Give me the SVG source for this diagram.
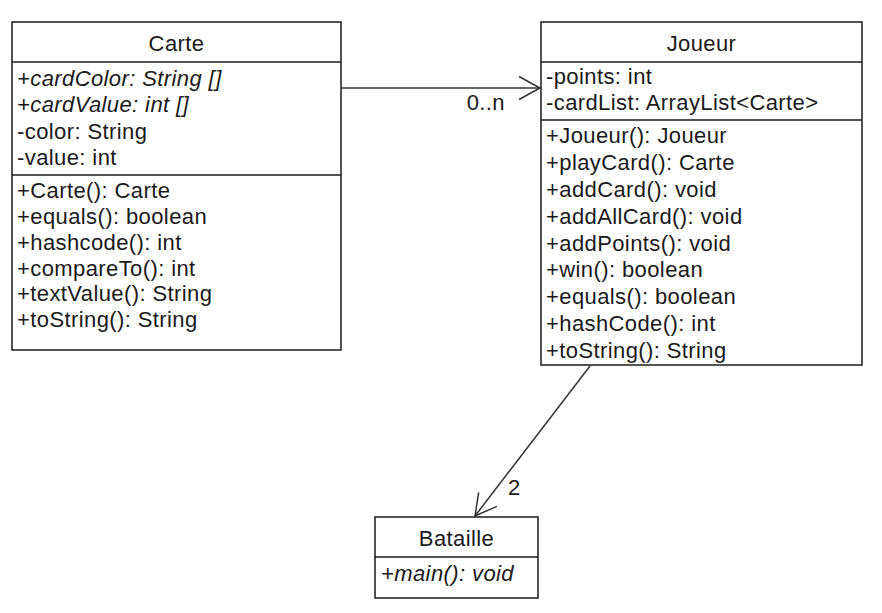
<svg xmlns="http://www.w3.org/2000/svg" width="882" height="613" viewBox="0 0 882 613">
<defs>
<style>
.box{fill:#ffffff;stroke:#1a1a1a;stroke-width:1.5}
.sep{stroke:#1a1a1a;stroke-width:1.5}
text{font-family:"Liberation Sans",Arial,sans-serif;font-size:22px;fill:#1a1a1a;letter-spacing:0.4px}
.t{text-anchor:middle}
.i{font-style:italic}
.conn{stroke:#333333;stroke-width:1.5;fill:none}
</style>
<marker id="open" markerUnits="userSpaceOnUse" markerWidth="30" markerHeight="30" refX="0" refY="0" viewBox="-25 -15 30 30" orient="auto">
<path d="M-21,-11.5 L0,0 L-21,11.5" fill="none" stroke="#333333" stroke-width="1.5"/>
</marker>
</defs>
<rect x="0" y="0" width="882" height="613" fill="#ffffff"/>
<g id="connectors">
<line class="conn" x1="341" y1="88" x2="540" y2="88" marker-end="url(#open)"/>
<text x="505" y="110" text-anchor="end">0..n</text>
<line class="conn" x1="590" y1="366" x2="475" y2="516" marker-end="url(#open)"/>
<text x="508" y="495">2</text>
</g>
<g id="Carte">
<rect class="box" x="12" y="22" width="329" height="328"/>
<line class="sep" x1="12" y1="62" x2="341" y2="62"/>
<line class="sep" x1="12" y1="175" x2="341" y2="175"/>
<text class="t" x="176.5" y="51">Carte</text>
<text class="i" x="17" y="85.5">+cardColor: String []</text>
<text class="i" x="17" y="112">+cardValue: int []</text>
<text x="17" y="138.5">-color: String</text>
<text x="17" y="165">-value: int</text>
<text x="17" y="198">+Carte(): Carte</text>
<text x="17" y="224">+equals(): boolean</text>
<text x="17" y="250">+hashcode(): int</text>
<text x="17" y="275.5">+compareTo(): int</text>
<text x="17" y="301">+textValue(): String</text>
<text x="17" y="327">+toString(): String</text>
</g>
<g id="Joueur">
<rect class="box" x="541" y="22" width="321" height="343"/>
<line class="sep" x1="541" y1="62" x2="862" y2="62"/>
<line class="sep" x1="541" y1="120" x2="862" y2="120"/>
<text class="t" x="701.5" y="51">Joueur</text>
<text x="546" y="84">-points: int</text>
<text x="546" y="110">-cardList: ArrayList&lt;Carte&gt;</text>
<text x="546" y="143">+Joueur(): Joueur</text>
<text x="546" y="169.9">+playCard(): Carte</text>
<text x="546" y="196.8">+addCard(): void</text>
<text x="546" y="223.6">+addAllCard(): void</text>
<text x="546" y="250.5">+addPoints(): void</text>
<text x="546" y="277.4">+win(): boolean</text>
<text x="546" y="304.3">+equals(): boolean</text>
<text x="546" y="331.1">+hashCode(): int</text>
<text x="546" y="358">+toString(): String</text>
</g>
<g id="Bataille">
<rect class="box" x="375" y="517" width="163" height="81"/>
<line class="sep" x1="375" y1="557" x2="538" y2="557"/>
<text class="t" x="456.5" y="546">Bataille</text>
<text class="i" x="381" y="581">+main(): void</text>
</g>
</svg>
